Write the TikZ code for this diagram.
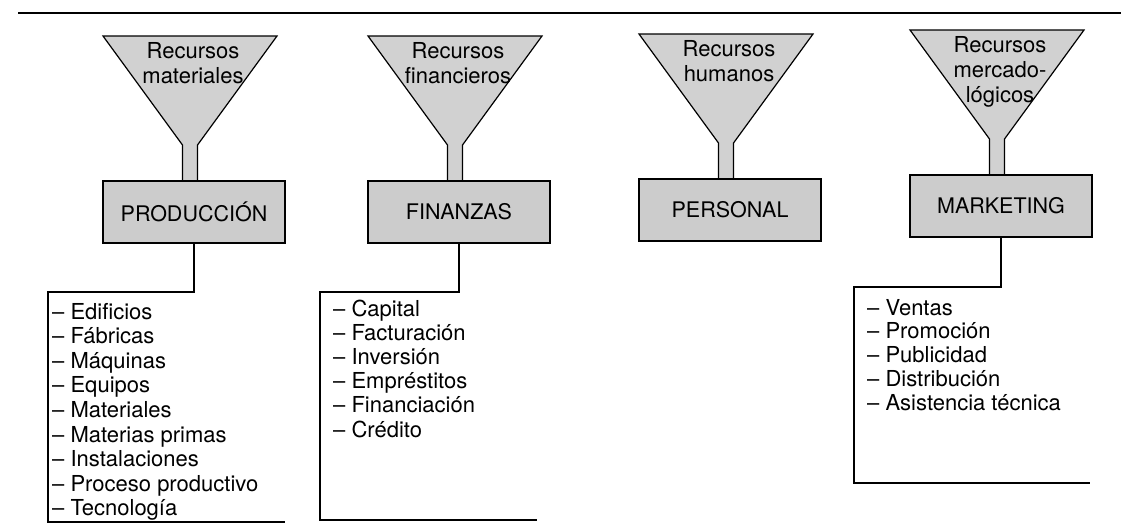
\documentclass[tikz,border=0pt]{standalone}
\usepackage{fontspec}
\setmainfont{TeX Gyre Heros}
\usetikzlibrary{positioning}

\begin{document}
\begin{tikzpicture}[
    x=1pt,
    y=-1pt,
    funnel/.style={
        draw,
        line width=1.2pt,
        fill=black!18
    },
    area/.style={
        draw,
        line width=1.8pt,
        fill=black!20,
        minimum width=182pt,
        minimum height=62pt,
        inner sep=0pt,
        font=\fontsize{21.5}{24}\selectfont
    },
    reslabel/.style={
        align=center,
        inner sep=0pt,
        font=\fontsize{22}{25}\selectfont
    },
    item/.style={
        anchor=base west,
        inner sep=0pt,
        font=\fontsize{22}{24}\selectfont
    },
    link/.style={line width=1.2pt}
]

\useasboundingbox (0,0) rectangle (1121,531);

%------------------------------------------------
% Top rule
%------------------------------------------------

\coordinate (rulel) at (18,13);
\coordinate (ruler) at (1121,13);
\draw[line width=2.2pt] (rulel) -- (ruler);

%------------------------------------------------
% Funnels and areas
%------------------------------------------------

\foreach \cx/\ty/\name/\res/\area in {
190/36/prod/{Recursos\\materiales}/PRODUCCIÓN,
455/36/fin/{Recursos\\financieros}/FINANZAS,
726/34/pers/{Recursos\\humanos}/PERSONAL,
997/30/mark/{Recursos\\mercado-\\lógicos}/MARKETING}
{
\draw[funnel] (\cx-87,\ty) -- (\cx+87,\ty) -- (\cx+7.5,\ty+109)
    -- (\cx+7.5,\ty+146) -- (\cx-7.5,\ty+146) -- (\cx-7.5,\ty+109) -- cycle;
\node[reslabel,anchor=north] (\name res) at (\cx+3,\ty+6) {\res};
\node[area] (\name) at (\cx+4,\ty+176) {\area};
}

%------------------------------------------------
% Producción
%------------------------------------------------

\foreach \itm [count=\k] in {Edificios,Fábricas,Máquinas,Equipos,Materiales,
Materias primas,Instalaciones,Proceso productivo,Tecnología}
\node[item] (prodi\k) at (52,294.4+24.6*\k) {\textendash\ \itm};

\coordinate (prodtl) at (48,292);
\coordinate (prodbl) at (48,522);
\coordinate (prodbr) at (285,522);
\draw[link] (prod.south) |- (prodtl) -- (prodbl) -- (prodbr);

%------------------------------------------------
% Finanzas
%------------------------------------------------

\foreach \itm [count=\k] in {Capital,Facturación,Inversión,Empréstitos,
Financiación,Crédito}
\node[item] (fini\k) at (333,291.8+24.2*\k) {\textendash\ \itm};

\coordinate (fintl) at (320,292);
\coordinate (finbl) at (320,520);
\coordinate (finbr) at (537,520);
\draw[link] (fin.south) |- (fintl) -- (finbl) -- (finbr);

%------------------------------------------------
% Marketing
%------------------------------------------------

\foreach \itm [count=\k] in {Ventas,Promoción,Publicidad,Distribución,
Asistencia técnica}
\node[item] (marki\k) at (867,291.2+23.8*\k) {\textendash\ \itm};

\coordinate (marktl) at (854,287);
\coordinate (markbl) at (854,483);
\coordinate (markbr) at (1090,483);
\draw[link] (mark.south) |- (marktl) -- (markbl) -- (markbr);

\end{tikzpicture}
\end{document}
